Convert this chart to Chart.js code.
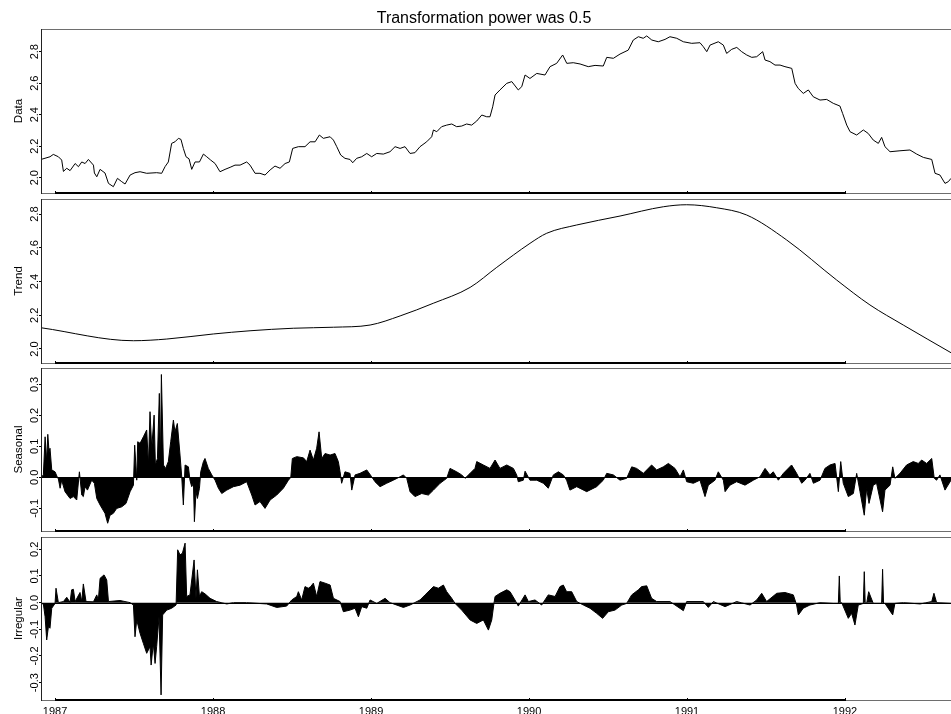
<!DOCTYPE html>
<html><head><meta charset="utf-8">
<script src="https://cdn.jsdelivr.net/npm/chart.js@4.4.1/dist/chart.umd.min.js"></script>
<style>
html,body{margin:0;padding:0;background:#fff;overflow:hidden}
#wrap{position:relative;width:951px;height:714px;background:#fff}
canvas{position:absolute;left:0;top:0}
</style></head><body><div id="wrap">
<canvas id="c0" width="951" height="714"></canvas>
<canvas id="c1" width="951" height="714"></canvas>
<canvas id="c2" width="951" height="714"></canvas>
<canvas id="c3" width="951" height="714"></canvas>
</div>
<script>
const titleText = "Transformation power was 0.5";
const panelNames = ["Data", "Trend", "Seasonal", "Irregular"];
const yearTicks = [1987, 1988, 1989, 1990, 1991, 1992];
const xRange = [1986.911, 1992.671];

const dataTicks = [2.0, 2.2, 2.4, 2.6, 2.8];
const trendTicks = [2.0, 2.2, 2.4, 2.6, 2.8];
const seasonalTicks = [-0.1, 0.0, 0.1, 0.2, 0.3];
const irregularTicks = [-0.3, -0.2, -0.1, 0.0, 0.1, 0.2];

const dataDates = [1986.911,1986.968,1986.989,1987.021,1987.042,1987.053,1987.074,1987.095,1987.127,1987.148,1987.169,1987.190,1987.211,1987.243,1987.249,1987.264,1987.285,1987.316,1987.338,1987.369,1987.395,1987.422,1987.443,1987.475,1987.506,1987.538,1987.580,1987.643,1987.675,1987.696,1987.717,1987.738,1987.759,1987.781,1987.797,1987.812,1987.829,1987.848,1987.865,1987.886,1987.914,1987.939,1987.960,1987.985,1988.013,1988.044,1988.076,1988.108,1988.139,1988.171,1988.213,1988.234,1988.266,1988.297,1988.329,1988.361,1988.392,1988.424,1988.456,1988.483,1988.504,1988.540,1988.582,1988.614,1988.646,1988.673,1988.698,1988.741,1988.762,1988.783,1988.808,1988.835,1988.867,1988.884,1988.909,1988.941,1988.973,1989.004,1989.036,1989.078,1989.120,1989.152,1989.184,1989.215,1989.247,1989.278,1989.310,1989.352,1989.384,1989.395,1989.416,1989.447,1989.479,1989.511,1989.542,1989.574,1989.605,1989.637,1989.669,1989.701,1989.732,1989.753,1989.770,1989.785,1989.816,1989.859,1989.891,1989.932,1989.954,1989.975,1990.006,1990.049,1990.101,1990.133,1990.175,1990.213,1990.239,1990.280,1990.323,1990.375,1990.418,1990.470,1990.492,1990.534,1990.576,1990.628,1990.660,1990.692,1990.723,1990.745,1990.777,1990.818,1990.861,1990.892,1990.935,1990.977,1991.030,1991.082,1991.103,1991.125,1991.146,1991.198,1991.230,1991.251,1991.283,1991.315,1991.346,1991.378,1991.410,1991.441,1991.479,1991.494,1991.525,1991.557,1991.589,1991.620,1991.663,1991.684,1991.704,1991.736,1991.768,1991.799,1991.842,1991.884,1991.926,1991.968,1991.985,1992.011,1992.032,1992.074,1992.116,1992.147,1992.179,1992.211,1992.232,1992.253,1992.285,1992.348,1992.411,1992.454,1992.496,1992.549,1992.570,1992.601,1992.633,1992.654,1992.671];
const dataValues = [2.116,2.133,2.148,2.133,2.112,2.040,2.060,2.045,2.090,2.070,2.100,2.090,2.116,2.080,2.030,2.006,2.053,2.030,1.964,1.943,1.996,1.975,1.960,2.017,2.032,2.038,2.028,2.032,2.028,2.070,2.100,2.218,2.228,2.250,2.243,2.186,2.133,2.120,2.053,2.100,2.100,2.150,2.133,2.112,2.090,2.038,2.053,2.066,2.080,2.080,2.100,2.080,2.028,2.028,2.017,2.049,2.074,2.060,2.090,2.100,2.186,2.197,2.197,2.228,2.228,2.271,2.250,2.260,2.239,2.197,2.144,2.123,2.116,2.095,2.123,2.133,2.154,2.133,2.154,2.150,2.165,2.197,2.186,2.197,2.154,2.159,2.197,2.228,2.260,2.303,2.292,2.324,2.334,2.341,2.324,2.328,2.341,2.334,2.360,2.398,2.387,2.387,2.450,2.525,2.557,2.599,2.610,2.557,2.578,2.652,2.630,2.662,2.652,2.705,2.726,2.779,2.726,2.730,2.722,2.705,2.713,2.709,2.764,2.758,2.785,2.810,2.874,2.895,2.885,2.900,2.874,2.863,2.878,2.895,2.885,2.863,2.853,2.857,2.832,2.800,2.842,2.863,2.842,2.789,2.815,2.827,2.800,2.779,2.764,2.768,2.800,2.747,2.737,2.715,2.715,2.705,2.694,2.599,2.567,2.535,2.557,2.514,2.493,2.497,2.472,2.455,2.408,2.334,2.292,2.271,2.303,2.281,2.239,2.218,2.256,2.197,2.165,2.171,2.176,2.150,2.129,2.116,2.028,2.017,1.964,1.975,1.996];

const trendDates = [1986.911,1987.496,1987.707,1988.002,1988.234,1988.508,1988.762,1988.994,1989.184,1989.394,1989.627,1989.796,1990.006,1990.112,1990.302,1990.576,1990.850,1990.998,1991.188,1991.378,1991.631,1991.947,1992.158,1992.369,1992.671];
const trendValues = [2.126,2.049,2.059,2.089,2.108,2.123,2.129,2.142,2.196,2.271,2.365,2.484,2.626,2.686,2.735,2.788,2.843,2.855,2.837,2.794,2.646,2.409,2.261,2.142,1.978];

const seasonalDates = [1986.911,1986.926,1986.937,1986.947,1986.954,1986.962,1986.968,1986.979,1987.000,1987.015,1987.021,1987.032,1987.042,1987.063,1987.095,1987.116,1987.137,1987.154,1987.169,1987.179,1987.190,1987.205,1987.232,1987.249,1987.264,1987.285,1987.316,1987.333,1987.348,1987.369,1987.390,1987.422,1987.449,1987.475,1987.496,1987.504,1987.517,1987.523,1987.538,1987.559,1987.580,1987.591,1987.601,1987.612,1987.627,1987.635,1987.648,1987.660,1987.667,1987.673,1987.686,1987.700,1987.717,1987.732,1987.749,1987.759,1987.774,1987.791,1987.802,1987.812,1987.823,1987.844,1987.854,1987.865,1987.876,1987.882,1987.892,1987.901,1987.914,1987.922,1987.939,1987.949,1987.970,1987.992,1988.013,1988.034,1988.055,1988.087,1988.129,1988.171,1988.213,1988.245,1988.266,1988.297,1988.329,1988.361,1988.403,1988.445,1988.477,1988.492,1988.502,1988.530,1988.572,1988.593,1988.614,1988.635,1988.656,1988.671,1988.688,1988.709,1988.741,1988.772,1988.793,1988.804,1988.814,1988.835,1988.867,1988.878,1988.899,1988.930,1988.973,1989.004,1989.025,1989.057,1989.099,1989.141,1989.184,1989.205,1989.226,1989.247,1989.278,1989.321,1989.363,1989.395,1989.437,1989.479,1989.500,1989.542,1989.574,1989.595,1989.627,1989.658,1989.669,1989.711,1989.753,1989.785,1989.816,1989.859,1989.901,1989.922,1989.932,1989.964,1989.975,1990.006,1990.049,1990.091,1990.122,1990.154,1990.186,1990.217,1990.238,1990.259,1990.302,1990.365,1990.428,1990.470,1990.492,1990.534,1990.576,1990.618,1990.650,1990.681,1990.724,1990.776,1990.808,1990.850,1990.882,1990.924,1990.956,1990.977,1990.998,1991.040,1991.082,1991.114,1991.135,1991.177,1991.198,1991.230,1991.241,1991.272,1991.314,1991.367,1991.420,1991.462,1991.494,1991.525,1991.546,1991.578,1991.610,1991.662,1991.694,1991.726,1991.747,1991.778,1991.800,1991.842,1991.873,1991.905,1991.937,1991.958,1991.973,1991.989,1992.021,1992.053,1992.074,1992.095,1992.122,1992.137,1992.152,1992.179,1992.200,1992.238,1992.253,1992.285,1992.302,1992.316,1992.348,1992.390,1992.432,1992.464,1992.485,1992.517,1992.549,1992.565,1992.580,1992.601,1992.633,1992.671];
const seasonalValues = [0,0.008,0.131,0.051,0.139,0.083,0.094,0.024,0.018,0,-0.005,-0.035,-0.009,-0.046,-0.068,-0.062,-0.073,0.018,-0.057,-0.062,-0.030,-0.041,-0.009,-0.019,-0.068,-0.089,-0.116,-0.148,-0.122,-0.116,-0.100,-0.095,-0.084,-0.046,-0.025,0.104,-0.009,0.115,0.110,0.131,0.153,0.040,0.212,0.094,0.201,0.040,0.061,0.271,0.050,0.332,0.040,0.029,0.051,0.115,0.185,0.147,0.174,0.072,0,-0.089,0.040,0.034,-0.009,-0.030,-0.019,-0.143,-0.046,-0.068,-0.035,0.018,0.051,0.061,0.029,0.008,-0.009,-0.035,-0.052,-0.041,-0.030,-0.025,-0.014,-0.057,-0.089,-0.078,-0.100,-0.073,-0.057,-0.035,-0.009,0,0.061,0.067,0.063,0.051,0.088,0.056,0.094,0.147,0.061,0.077,0.072,0.077,0.051,0.018,-0.019,0.018,0.013,-0.041,0.008,0.013,0.024,0.002,-0.014,-0.030,-0.019,-0.009,0.002,0.008,-0.003,-0.046,-0.062,-0.052,-0.057,-0.041,-0.019,-0.003,0.029,0.018,0.008,-0.003,0.013,0.029,0.051,0.040,0.029,0.056,0.029,0.040,0.029,0.008,-0.014,-0.009,0.020,-0.009,-0.009,-0.019,-0.035,0.008,0.018,0.008,-0.009,-0.041,-0.030,-0.046,-0.030,-0.009,0.013,0.008,-0.009,-0.003,0.034,0.029,0.013,0.040,0.024,0.034,0.045,0.029,0.002,0.024,-0.014,-0.019,-0.009,-0.062,-0.025,-0.009,0.018,-0.009,-0.046,-0.025,-0.014,-0.025,-0.009,0.002,0.029,0.008,0.018,-0.009,0.013,0.040,0.013,-0.019,-0.009,0.013,-0.019,-0.009,0.029,0.040,0.045,-0.046,0.051,-0.019,-0.062,-0.052,0.013,-0.046,-0.122,-0.035,-0.084,-0.025,-0.019,-0.111,-0.041,-0.025,0.034,-0.003,0.013,0.040,0.051,0.045,0.056,0.045,0.061,-0.003,-0.009,0.008,-0.041,-0.009];

const irregularDates = [1986.911,1986.926,1986.937,1986.947,1986.958,1986.968,1986.979,1987.000,1987.006,1987.021,1987.053,1987.074,1987.095,1987.105,1987.116,1987.127,1987.158,1987.169,1987.179,1987.196,1987.243,1987.264,1987.274,1987.285,1987.310,1987.327,1987.338,1987.411,1987.475,1987.496,1987.506,1987.517,1987.538,1987.559,1987.580,1987.601,1987.608,1987.622,1987.633,1987.643,1987.658,1987.671,1987.681,1987.707,1987.738,1987.766,1987.776,1987.791,1987.806,1987.823,1987.833,1987.854,1987.880,1987.892,1987.901,1987.914,1987.928,1987.949,1987.981,1988.023,1988.087,1988.129,1988.213,1988.340,1988.403,1988.466,1988.498,1988.530,1988.540,1988.561,1988.582,1988.603,1988.618,1988.635,1988.656,1988.677,1988.709,1988.741,1988.762,1988.804,1988.825,1988.867,1988.899,1988.920,1988.941,1988.973,1988.994,1989.036,1989.089,1989.120,1989.205,1989.247,1989.310,1989.342,1989.395,1989.426,1989.458,1989.479,1989.511,1989.532,1989.574,1989.627,1989.669,1989.711,1989.743,1989.764,1989.778,1989.785,1989.816,1989.859,1989.880,1989.911,1989.932,1989.975,1989.996,1990.038,1990.080,1990.122,1990.165,1990.196,1990.217,1990.238,1990.270,1990.302,1990.344,1990.386,1990.428,1990.466,1990.502,1990.544,1990.587,1990.618,1990.650,1990.692,1990.713,1990.745,1990.776,1990.808,1990.892,1990.977,1990.998,1991.103,1991.135,1991.167,1991.241,1991.314,1991.399,1991.441,1991.473,1991.504,1991.568,1991.620,1991.673,1991.694,1991.705,1991.736,1991.778,1991.842,1991.926,1991.958,1991.964,1991.970,1991.979,1992.021,1992.042,1992.063,1992.084,1992.116,1992.122,1992.128,1992.137,1992.150,1992.179,1992.232,1992.238,1992.244,1992.253,1992.302,1992.316,1992.369,1992.475,1992.549,1992.563,1992.580,1992.671];
const irregularValues = [-0.003,-0.005,-0.053,-0.140,-0.090,-0.096,-0.021,-0.003,0.054,0,0.004,0.020,0.001,0.048,0.050,0.004,0.038,0.004,0.070,0.004,0.003,0.029,0.010,0.091,0.104,0.085,0.004,0.008,0,-0.009,-0.128,-0.065,-0.115,-0.153,-0.190,-0.165,-0.234,-0.153,-0.228,-0.165,-0.053,-0.346,-0.046,-0.028,-0.021,-0.009,0.198,0.179,0.185,0.223,0.023,0.029,0.160,0.016,0.123,0.023,0.041,0.033,0.016,0.004,-0.005,0,0,-0.005,-0.018,-0.013,0.010,0.023,0.041,0.010,0.060,0.054,0.060,0.073,0.023,0.079,0.073,0.066,0.016,0.004,-0.034,-0.028,-0.021,-0.053,-0.015,-0.021,0.010,-0.003,0.016,0,-0.018,-0.009,0.010,0.029,0.060,0.054,0.066,0.041,0.016,-0.003,-0.028,-0.065,-0.078,-0.065,-0.103,-0.065,-0.003,0.023,0.035,0.048,0.041,0.010,-0.013,0.029,0.004,0.010,-0.009,0.029,0.023,0.060,0.066,0.041,0.041,0.004,-0.009,-0.021,-0.040,-0.059,-0.034,-0.028,-0.009,-0.003,0.029,0.048,0.060,0.063,0.016,0.004,0.004,-0.030,0.004,0.004,-0.018,0.004,-0.015,0.004,-0.009,0.010,0.035,0.004,0.035,0.038,0.029,-0.009,-0.046,-0.021,-0.009,0,-0.003,-0.003,0.100,0,0,-0.059,-0.040,-0.084,-0.009,-0.003,0.116,-0.003,-0.003,0.041,-0.003,-0.003,0.125,-0.003,-0.003,-0.046,-0.003,0,-0.005,0.004,0.035,0,-0.003];

// layout (pixel boxes of the four panels) and y ranges
const panelBoxes = [[29,193],[199,363],[368,531],[537,700]];
const panelRanges = [[1.903,2.944],[1.917,2.889],[-0.173,0.353],[-0.365,0.246]];

const FONT = '"Liberation Sans", Arial, Helvetica, sans-serif';

const decor = {
  id: 'decor',
  afterDatasetsDraw(chart, args, o) {
    const {ctx, chartArea: a, scales: {x, y}} = chart;
    ctx.save();
    if (o.zeroLine) {
      const py = Math.round(y.getPixelForValue(0)) + 0.5;
      ctx.strokeStyle = '#000'; ctx.lineWidth = 1;
      ctx.beginPath(); ctx.moveTo(a.left, py); ctx.lineTo(a.right, py); ctx.stroke();
    }
    ctx.strokeStyle = '#6e6e6e'; ctx.lineWidth = 1;
    ctx.strokeRect(a.left + 0.5, a.top + 0.5, a.right - a.left, a.bottom - a.top);
    ctx.strokeStyle = '#222';
    ctx.beginPath(); ctx.moveTo(a.left + 0.5, a.top); ctx.lineTo(a.left + 0.5, a.bottom + 1); ctx.stroke();
    const x0 = x.getPixelForValue(yearTicks[0]);
    const x1 = x.getPixelForValue(yearTicks[yearTicks.length - 1]);
    ctx.strokeStyle = '#000'; ctx.lineWidth = 2;
    ctx.beginPath(); ctx.moveTo(x0, a.bottom); ctx.lineTo(x1, a.bottom); ctx.stroke();
    ctx.lineWidth = 1;
    for (const yr of yearTicks) {
      const px = Math.round(x.getPixelForValue(yr)) + 0.5;
      ctx.beginPath(); ctx.moveTo(px, a.bottom - 2); ctx.lineTo(px, a.bottom + 1); ctx.stroke();
    }
    ctx.fillStyle = '#000';
    ctx.font = '11px ' + FONT;
    ctx.textAlign = 'center'; ctx.textBaseline = 'alphabetic';
    for (const t of o.ticks) {
      const py = y.getPixelForValue(t);
      ctx.save(); ctx.translate(37.5, py); ctx.rotate(-Math.PI / 2);
      ctx.fillText(t.toFixed(1), 0, 0); ctx.restore();
    }
    ctx.font = '11.5px ' + FONT;
    ctx.save(); ctx.translate(21.5, (a.top + a.bottom) / 2); ctx.rotate(-Math.PI / 2);
    ctx.fillText(o.name, 0, 0); ctx.restore();
    if (o.years) {
      ctx.font = '11px ' + FONT;
      for (const yr of yearTicks) ctx.fillText(String(yr), x.getPixelForValue(yr), 714.5);
    }
    if (o.title) {
      ctx.font = '16px ' + FONT;
      ctx.fillText(o.title, 484, 22.5);
    }
    ctx.restore();
  }
};

function makePanel(i, dates, values, ticks, opts) {
  const [top, bottom] = panelBoxes[i];
  const [ymin, ymax] = panelRanges[i];
  const pts = dates.map((d, k) => ({x: d, y: values[k]}));
  return new Chart(document.getElementById('c' + i), {
    type: 'line',
    data: { datasets: [{
      data: pts,
      borderColor: '#000',
      backgroundColor: '#000',
      borderWidth: 1,
      pointRadius: 0,
      tension: 0,
      cubicInterpolationMode: opts.smooth ? 'monotone' : 'default',
      fill: opts.fill ? 'origin' : false
    }]},
    options: {
      responsive: false, animation: false, devicePixelRatio: 1, events: [],
      layout: { padding: { top: top, bottom: 714 - bottom, left: 0, right: 0 } },
      plugins: { legend: {display: false}, tooltip: {enabled: false}, title: {display: false},
        decor: { ticks: ticks, name: panelNames[i], zeroLine: !!opts.fill, years: !!opts.years, title: opts.title || null } },
      scales: {
        x: { type: 'linear', min: xRange[0], max: xRange[1], display: false },
        y: { type: 'linear', min: ymin, max: ymax,
          afterFit(s) { s.width = 41; },
          afterBuildTicks(s) { s.ticks = ticks.map(v => ({value: v})); },
          ticks: { display: false },
          grid: { display: true, drawOnChartArea: false, drawTicks: true, tickLength: 2, color: '#000', lineWidth: 1 },
          border: { display: false } }
      }
    },
    plugins: [decor]
  });
}

makePanel(0, dataDates, dataValues, dataTicks, {title: titleText});
makePanel(1, trendDates, trendValues, trendTicks, {smooth: true});
makePanel(2, seasonalDates, seasonalValues, seasonalTicks, {fill: true});
makePanel(3, irregularDates, irregularValues, irregularTicks, {fill: true, years: true});
</script></body></html>
